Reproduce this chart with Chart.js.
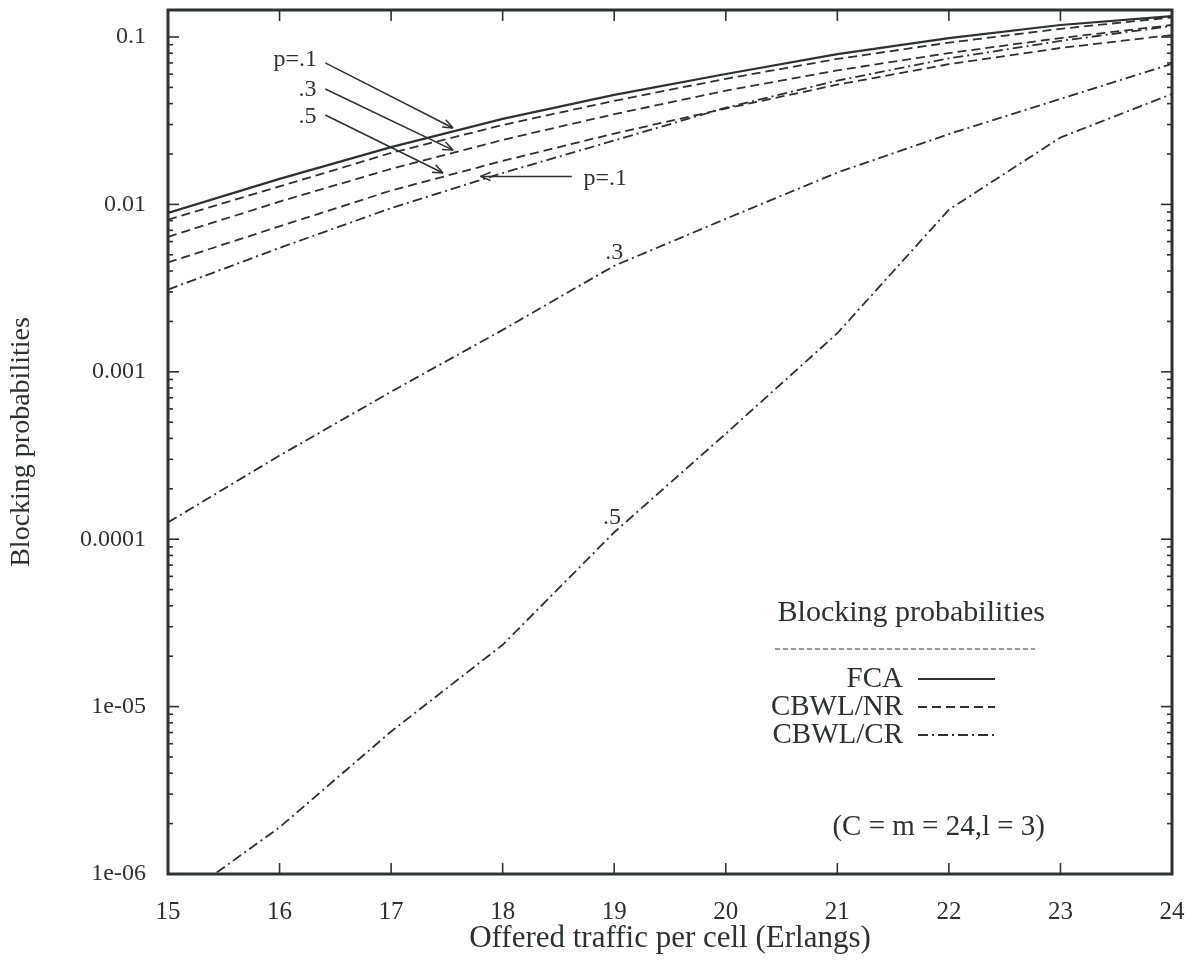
<!DOCTYPE html>
<html>
<head>
<meta charset="utf-8">
<script src="https://cdn.jsdelivr.net/npm/chart.js@4.4.1/dist/chart.umd.min.js"></script>
<style>
  html, body { margin: 0; padding: 0; background: #fff; }
  canvas { display: block; }
</style>
</head>
<body>
<canvas id="blockChart" width="1203" height="961"></canvas>
<script>
// offered traffic per cell (Erlangs)
const traffic = [15, 16, 17, 18, 19, 20, 21, 22, 23, 24];

// blocking probabilities
const fca    = [0.0089, 0.0142, 0.0220, 0.0324, 0.0451, 0.0601, 0.0791, 0.0986, 0.118, 0.1334];
const nrP1   = [0.0081, 0.0128, 0.0203, 0.0298, 0.0416, 0.0563, 0.074, 0.0925, 0.112, 0.131];
const nrP3   = [0.0064, 0.0104, 0.0163, 0.0243, 0.0346, 0.0478, 0.0632, 0.0802, 0.0986, 0.118];
const nrP5   = [0.0045, 0.0074, 0.0121, 0.0182, 0.0265, 0.0374, 0.0519, 0.0688, 0.086, 0.1028];
const crP1   = [0.0031, 0.0055, 0.0095, 0.0154, 0.0241, 0.0378, 0.0549, 0.0745, 0.0947, 0.1164];
const crP3   = [1.26e-4, 3.16e-4, 7.6e-4, 1.78e-3, 4.3e-3, 8.2e-3, 0.0155, 0.0263, 0.0427, 0.0692];
const crP5   = [6.3e-7, 1.9e-6, 7.1e-6, 2.34e-5, 1.1e-4, 4.27e-4, 1.7e-3, 9.3e-3, 0.0251, 0.0457];

const xTicks = [15, 16, 17, 18, 19, 20, 21, 22, 23, 24];
const yTicks = [1e-6, 1e-5, 1e-4, 1e-3, 1e-2, 1e-1];
const yTickLabels = ['1e-06', '1e-05', '0.0001', '0.001', '0.01', '0.1'];

const legendTitle = 'Blocking probabilities';
const legendNames = ['FCA', 'CBWL/NR', 'CBWL/CR'];
const paramNote = '(C = m = 24,l = 3)';

// curve labels, anchored in data coordinates
const curveLabels = [
  { text: 'p=.1', x: 16.14, y: 0.0729, from: [16.41, 0.070], to: [17.555, 0.0286] },
  { text: '.3', x: 16.25, y: 0.0482, from: [16.41, 0.0489], to: [17.555, 0.0211] },
  { text: '.5', x: 16.25, y: 0.0333, from: [16.41, 0.0342], to: [17.465, 0.0154] },
  { text: 'p=.1', x: 18.92, y: 0.0142, from: [18.62, 0.0147], to: [17.8, 0.0147] },
  { text: '.3', x: 19.0, y: 0.00513 },
  { text: '.5', x: 18.98, y: 1.34e-4 }
];

const ink = '#2c322e';
const serif = '"Liberation Serif", "Times New Roman", serif';

const DASHED = [9, 5];
const DASHDOT = [10, 4, 2, 4];

function series(data, dash, width) {
  return {
    data: data.map((v, i) => ({ x: traffic[i], y: v })),
    borderColor: ink,
    borderWidth: width,
    borderDash: dash,
    pointRadius: 0,
    fill: false,
    tension: 0
  };
}

function seg(ctx, x1, y1, x2, y2) {
  ctx.beginPath();
  ctx.moveTo(x1, y1);
  ctx.lineTo(x2, y2);
  ctx.stroke();
}

const framePlugin = {
  id: 'frame',
  afterDatasetsDraw(chart) {
    const { ctx, chartArea: a, scales: { x, y } } = chart;
    ctx.save();
    ctx.strokeStyle = ink;
    ctx.lineWidth = 1.6;
    xTicks.forEach(v => {
      const px = x.getPixelForValue(v);
      seg(ctx, px, a.bottom, px, a.bottom - 11);
      seg(ctx, px, a.top, px, a.top + 11);
    });
    for (let e = -6; e <= -1; e++) {
      for (let m = 1; m <= 9; m++) {
        const v = m * Math.pow(10, e);
        if (v > y.max) break;
        const py = y.getPixelForValue(v);
        const len = m === 1 ? 11 : 5;
        seg(ctx, a.left, py, a.left + len, py);
        seg(ctx, a.right, py, a.right - len, py);
      }
    }
    ctx.lineWidth = 3;
    ctx.strokeRect(a.left, a.top, a.right - a.left, a.bottom - a.top);
    ctx.restore();
  }
};

const notesPlugin = {
  id: 'notes',
  afterDraw(chart) {
    const { ctx, chartArea: a, scales: { x, y } } = chart;
    ctx.save();
    ctx.fillStyle = ink;
    ctx.strokeStyle = ink;
    ctx.lineWidth = 1.5;
    ctx.font = '24px ' + serif;
    ctx.textBaseline = 'middle';
    ctx.textAlign = 'center';

    curveLabels.forEach(l => {
      ctx.fillText(l.text, x.getPixelForValue(l.x), y.getPixelForValue(l.y));
      if (l.from) {
        const x1 = x.getPixelForValue(l.from[0]), y1 = y.getPixelForValue(l.from[1]);
        const x2 = x.getPixelForValue(l.to[0]), y2 = y.getPixelForValue(l.to[1]);
        seg(ctx, x1, y1, x2, y2);
        const ang = Math.atan2(y2 - y1, x2 - x1);
        const h = 11, spread = 0.38;
        seg(ctx, x2, y2, x2 - h * Math.cos(ang - spread), y2 - h * Math.sin(ang - spread));
        seg(ctx, x2, y2, x2 - h * Math.cos(ang + spread), y2 - h * Math.sin(ang + spread));
      }
    });

    // key box in the lower right of the plot
    const keyRight = a.right - 127;
    const titleY = a.bottom - 261;
    ctx.font = '30px ' + serif;
    ctx.textAlign = 'right';
    ctx.fillText(legendTitle, keyRight, titleY);

    ctx.lineWidth = 1;
    ctx.setLineDash([5, 3]);
    seg(ctx, keyRight - 270, titleY + 36, keyRight - 10, titleY + 36);

    const styles = [[], DASHED, DASHDOT];
    const widths = [2.2, 1.8, 1.8];
    ctx.font = '29px ' + serif;
    legendNames.forEach((name, i) => {
      const ly = titleY + 66 + i * 28;
      ctx.setLineDash([]);
      ctx.fillText(name, keyRight - 142, ly);
      ctx.setLineDash(styles[i]);
      ctx.lineWidth = widths[i];
      seg(ctx, keyRight - 127, ly, keyRight - 50, ly);
    });

    ctx.setLineDash([]);
    ctx.fillText(paramNote, keyRight, a.bottom - 47);
    ctx.restore();
  }
};

const chart = new Chart(document.getElementById('blockChart').getContext('2d'), {
  type: 'line',
  data: {
    datasets: [
      series(fca, [], 2.2),
      series(nrP1, DASHED, 1.8),
      series(nrP3, DASHED, 1.8),
      series(nrP5, DASHED, 1.8),
      series(crP1, DASHDOT, 1.8),
      series(crP3, DASHDOT, 1.8),
      series(crP5, DASHDOT, 1.8)
    ]
  },
  options: {
    responsive: false,
    animation: false,
    layout: { padding: { top: 10, right: 31, left: 0, bottom: 0 } },
    plugins: { legend: { display: false }, tooltip: { enabled: false } },
    scales: {
      x: {
        type: 'linear',
        min: 15,
        max: 24,
        grid: { display: false },
        border: { display: false },
        afterBuildTicks: s => { s.ticks = xTicks.map(v => ({ value: v })); },
        afterFit: s => { s.height = 87; s.paddingLeft = 0; s.paddingRight = 0; },
        ticks: { color: ink, font: { family: serif, size: 25 }, padding: 15, maxRotation: 0 },
        title: {
          display: true,
          text: 'Offered traffic per cell (Erlangs)',
          color: ink,
          font: { family: serif, size: 31 },
          padding: { top: 0, bottom: 4 }
        }
      },
      y: {
        type: 'logarithmic',
        min: 1e-6,
        max: 0.145,
        grid: { display: false },
        border: { display: false },
        afterBuildTicks: s => { s.ticks = yTicks.map(v => ({ value: v })); },
        afterFit: s => { s.width = 168; s.paddingTop = 0; s.paddingBottom = 0; },
        ticks: {
          color: ink,
          font: { family: serif, size: 24 },
          padding: 14,
          callback: v => {
            const i = yTicks.findIndex(t => Math.abs(Math.log10(t) - Math.log10(v)) < 1e-6);
            return i >= 0 ? yTickLabels[i] : '';
          }
        },
        title: {
          display: true,
          text: 'Blocking probabilities',
          color: ink,
          font: { family: serif, size: 28 },
          padding: { top: 5, bottom: 0 }
        }
      }
    }
  },
  plugins: [framePlugin, notesPlugin]
});
</script>
</body>
</html>
